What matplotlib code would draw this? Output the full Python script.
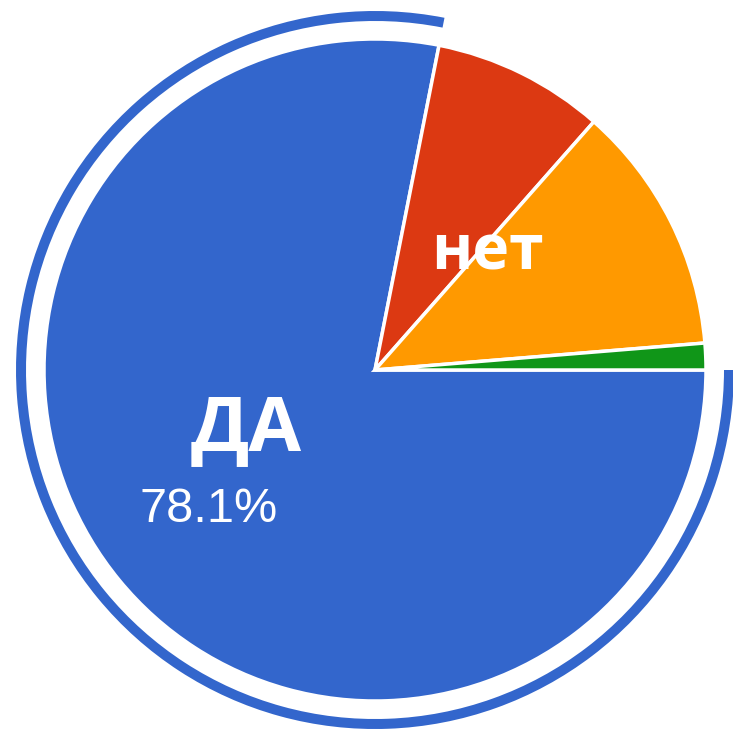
import matplotlib
matplotlib.use("Agg")
import matplotlib.pyplot as plt
from matplotlib.patches import Wedge

# Data
labels = ["ДА", "", "нет", ""]
shares = [78.1, 8.4, 12.2, 1.3]
colors = ["#3366CC", "#DC3912", "#FF9900", "#109618"]

fig = plt.figure(figsize=(7.33, 7.33), dpi=100)
ax = fig.add_axes([0, 0, 1, 1])

center = (375, 363)
radius = 331

ax.pie(shares, colors=colors, startangle=0, counterclock=False,
       center=center, radius=radius, frame=True,
       wedgeprops=dict(edgecolor="white", linewidth=2.5))
ax.set_xlim(0, 733)
ax.set_ylim(0, 733)
ax.set_aspect("equal")
ax.axis("off")

# highlight ring around the selected (first) slice
theta_start = 360 * (1 - shares[0] / sum(shares))
ring = Wedge(center, 359, theta_start, 360, width=10, color=colors[0], lw=0)
ax.add_patch(ring)

# labels
ax.text(246, 733 - 431, labels[0], color="white", fontsize=55, fontweight="bold",
        family="Open Sans", ha="center", va="center")
ax.text(209, 733 - 510, f"{shares[0]}%", color="white", fontsize=35,
        family="Liberation Sans", ha="center", va="center")
ax.text(487, 733 - 253, labels[2], color="white", fontsize=45, fontweight="bold",
        family="Open Sans", ha="center", va="center")

fig.savefig("out.png", dpi=100)
